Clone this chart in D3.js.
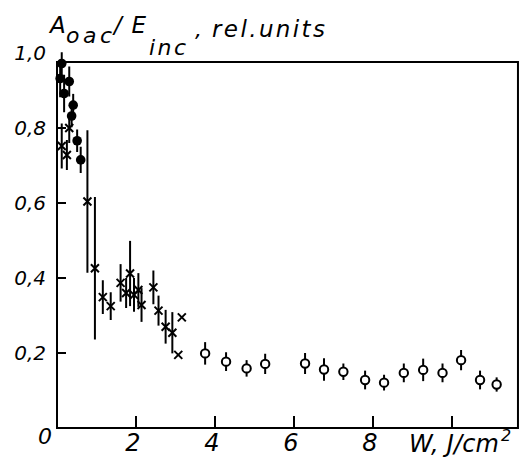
<!DOCTYPE html>
<html><head><meta charset="utf-8">
<script src="https://cdn.jsdelivr.net/npm/d3@7"></script>
<style>body{margin:0;background:#fff}</style>
</head><body>
<svg id="c" width="520" height="457"></svg>
<script>
// Data: [W (J/cm^2), A/E (rel. units), error half-length]
const filledPoints = [
  [0.12,0.972,0.03],[0.08,0.932,0.05],[0.31,0.924,0.04],[0.18,0.892,0.05],
  [0.41,0.861,0.03],[0.37,0.832,0.03],[0.51,0.766,0.03],[0.60,0.715,0.035]
];
const crossPoints = [
  [0.31,0.800,0.04],[0.12,0.752,0.06],[0.25,0.728,0.04],
  [0.77,0.604,0.19],[0.96,0.426,0.19],[1.16,0.349,0.045],[1.36,0.325,0.037],
  [1.61,0.387,0.05],[1.75,0.360,0.04],[1.85,0.412,0.087],[1.95,0.355,0.045],
  [2.06,0.368,0.045],[2.14,0.328,0.045],[2.44,0.375,0.045],[2.57,0.313,0.04],
  [2.75,0.270,0.045],[2.92,0.254,0.055],[3.16,0.295,0],[3.07,0.195,0]
];
const openPoints = [
  [3.75,0.199,0.03],[4.28,0.177,0.025],[4.80,0.159,0.022],[5.27,0.171,0.027],
  [6.28,0.172,0.028],[6.76,0.156,0.03],[7.25,0.150,0.022],[7.80,0.128,0.025],
  [8.28,0.121,0.021],[8.78,0.147,0.025],[9.27,0.155,0.03],[9.76,0.147,0.025],
  [10.23,0.181,0.027],[10.71,0.128,0.025],[11.13,0.116,0.019]
];
const xTicks = [2,4,6,8,10];
const xTickLabels = ["2","4","6","8",""];
const yTicks = [0.2,0.4,0.6,0.8];
const yTickLabels = ["0,2","0,4","0,6","0,8","1,0"];
const yLabelValues = [0.2,0.4,0.6,0.8,1.0];

const svg = d3.select("#c");
const x = d3.scaleLinear().domain([0,10]).range([57,452]);
const y = d3.scaleLinear().domain([0,1]).range([428,53]);
const xEnd = 11.67, yEnd = 0.976;
const font = "'DejaVu Sans', sans-serif";

// frame
svg.append("path")
  .attr("d", `M${x(0)},${y(yEnd)} H${x(xEnd)} V${y(0)} H${x(0)} Z`)
  .attr("fill","none").attr("stroke","#000").attr("stroke-width",2);

// ticks
svg.selectAll(".xt").data(xTicks).join("line")
  .attr("x1",d=>x(d)).attr("x2",d=>x(d)).attr("y1",y(0)).attr("y2",y(0)-12)
  .attr("stroke","#000").attr("stroke-width",2);
svg.selectAll(".yt").data(yTicks).join("line")
  .attr("x1",x(0)).attr("x2",x(0)+9).attr("y1",d=>y(d)).attr("y2",d=>y(d))
  .attr("stroke","#000").attr("stroke-width",2);

// tick labels
svg.selectAll(".xl").data(xTicks).join("text")
  .attr("x",d=>x(d)-3).attr("y",451).attr("text-anchor","middle")
  .attr("font-family",font).attr("font-style","italic").attr("font-size",24)
  .text((d,i)=>xTickLabels[i]);
svg.append("text").attr("x",45).attr("y",444).attr("text-anchor","middle")
  .attr("font-family",font).attr("font-style","italic").attr("font-size",22).text("0");
svg.selectAll(".yl").data(yLabelValues).join("text")
  .attr("x",46).attr("y",d=>y(d)+7).attr("text-anchor","end")
  .attr("font-family",font).attr("font-style","italic").attr("font-size",20)
  .text((d,i)=>yTickLabels[i]);

// axis titles
const t = svg.append("g").attr("font-family",font).attr("font-style","italic").attr("fill","#000");
t.append("text").attr("x",50).attr("y",33).attr("font-size",23).text("A");
t.append("text").attr("x",66).attr("y",43).attr("font-size",22).attr("textLength",46).text("oac");
t.append("text").attr("x",114).attr("y",33).attr("font-size",23).attr("textLength",32).text("/E");
t.append("text").attr("x",149).attr("y",55).attr("font-size",22).attr("textLength",37).text("inc");
t.append("text").attr("x",195).attr("y",37).attr("font-size",22).text(",");
t.append("text").attr("x",212).attr("y",37).attr("font-size",23).attr("textLength",113).text("rel.units");

t.append("text").attr("x",409).attr("y",452).attr("font-size",24).attr("textLength",90).text("W, J/cm");
t.append("text").attr("x",501).attr("y",441).attr("font-size",16).text("2");

// error bars
const all = filledPoints.concat(crossPoints, openPoints).filter(d=>d[2]>0);
svg.selectAll(".eb").data(all).join("line")
  .attr("x1",d=>x(d[0])).attr("x2",d=>x(d[0]))
  .attr("y1",d=>y(d[1]-d[2])).attr("y2",d=>y(d[1]+d[2]))
  .attr("stroke","#000").attr("stroke-width",2);

// filled circles
svg.selectAll(".fc").data(filledPoints).join("circle")
  .attr("cx",d=>x(d[0])).attr("cy",d=>y(d[1])).attr("r",4.8).attr("fill","#000");

// crosses
const s = 4;
svg.selectAll(".cr").data(crossPoints).join("path")
  .attr("d",d=>{const cx=x(d[0]), cy=y(d[1]);
    return `M${cx-s},${cy-s}L${cx+s},${cy+s}M${cx+s},${cy-s}L${cx-s},${cy+s}`;})
  .attr("stroke","#000").attr("stroke-width",2).attr("fill","none");

// open circles
svg.selectAll(".oc").data(openPoints).join("circle")
  .attr("cx",d=>x(d[0])).attr("cy",d=>y(d[1])).attr("r",4.2)
  .attr("fill","#fff").attr("stroke","#000").attr("stroke-width",2);
</script>
</body></html>
